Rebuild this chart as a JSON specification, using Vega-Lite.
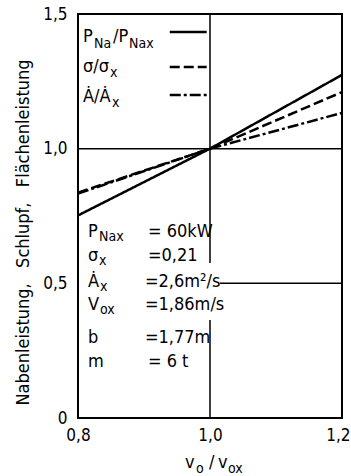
{
  "$schema": "https://vega.github.io/schema/vega-lite/v6.json",
  "width": 264,
  "height": 404,
  "autosize": {"type": "none"},
  "padding": {"left": 78, "top": 14, "right": 9, "bottom": 58},
  "background": "white",
  "config": {
    "view": {"stroke": "black", "strokeWidth": 2},
    "font": "DejaVu Sans Condensed",
    "text": {"font": "DejaVu Sans Condensed"}
  },
  "datasets": {
    "curves": [
      {"x": 0.8, "y": 0.752, "series": "P"},
      {"x": 1.0, "y": 1.0, "series": "P"},
      {"x": 1.2, "y": 1.274, "series": "P"},
      {"x": 0.8, "y": 0.837, "series": "sigma"},
      {"x": 1.0, "y": 1.0, "series": "sigma"},
      {"x": 1.2, "y": 1.21, "series": "sigma"},
      {"x": 0.8, "y": 0.833, "series": "A"},
      {"x": 1.0, "y": 1.0, "series": "A"},
      {"x": 1.2, "y": 1.133, "series": "A"}
    ],
    "grid": [
      {"x": 1.0, "x2": 1.0, "y": 0.5755, "y2": 1.5},
      {"x": 1.0, "x2": 1.0, "y": 0.0, "y2": 0.364},
      {"x": 0.8, "x2": 1.2, "y": 1.0, "y2": 1.0},
      {"x": 1.015, "x2": 1.2, "y": 0.5, "y2": 0.5}
    ],
    "legendlines": [
      {"x": 0.939, "x2": 0.995, "y": 1.433, "series": "P"},
      {"x": 0.939, "x2": 0.995, "y": 1.303, "series": "sigma"},
      {"x": 0.939, "x2": 0.995, "y": 1.199, "series": "A"}
    ],
    "labels": [
      {"t": "P", "x": 0.8076, "y": 1.396, "kind": "main"},
      {"t": "Na", "x": 0.8242, "y": 1.374, "kind": "sub"},
      {"t": "/P", "x": 0.853, "y": 1.396, "kind": "main"},
      {"t": "Nax", "x": 0.8773, "y": 1.374, "kind": "sub"},
      {"t": "σ/σ", "x": 0.8076, "y": 1.285, "kind": "main"},
      {"t": "x", "x": 0.8485, "y": 1.266, "kind": "sub"},
      {"t": "Ȧ/Ȧ", "x": 0.8076, "y": 1.174, "kind": "main"},
      {"t": "x", "x": 0.8515, "y": 1.155, "kind": "sub"},
      {"t": "P", "x": 0.8152, "y": 0.672, "kind": "main"},
      {"t": "Nax", "x": 0.8318, "y": 0.657, "kind": "sub"},
      {"t": "= 60kW", "x": 0.906, "y": 0.672, "kind": "main"},
      {"t": "σ", "x": 0.8152, "y": 0.583, "kind": "main"},
      {"t": "x", "x": 0.8318, "y": 0.568, "kind": "sub"},
      {"t": "=0,21", "x": 0.906, "y": 0.583, "kind": "main"},
      {"t": "Ȧ", "x": 0.8152, "y": 0.486, "kind": "main"},
      {"t": "x", "x": 0.8333, "y": 0.4715, "kind": "sub"},
      {"t": "=2,6m²/s", "x": 0.9015, "y": 0.486, "kind": "main"},
      {"t": "V", "x": 0.8152, "y": 0.401, "kind": "main"},
      {"t": "ox", "x": 0.8333, "y": 0.386, "kind": "sub"},
      {"t": "=1,86m/s", "x": 0.9015, "y": 0.401, "kind": "main"},
      {"t": "b", "x": 0.8152, "y": 0.2785, "kind": "main"},
      {"t": "=1,77m", "x": 0.9015, "y": 0.2785, "kind": "main"},
      {"t": "m", "x": 0.8152, "y": 0.189, "kind": "main"},
      {"t": "= 6 t", "x": 0.906, "y": 0.189, "kind": "main"},
      {"t": "v", "x": 0.9621, "y": -0.1857, "kind": "main"},
      {"t": "o", "x": 0.9788, "y": -0.2043, "kind": "sub"},
      {"t": "/", "x": 0.9985, "y": -0.1857, "kind": "main"},
      {"t": "v", "x": 1.0121, "y": -0.1857, "kind": "main"},
      {"t": "ox", "x": 1.0273, "y": -0.2043, "kind": "sub"}
    ]
  },
  "layer": [
    {
      "data": {"name": "grid"},
      "mark": {"type": "rule", "color": "black", "strokeWidth": 1.5},
      "encoding": {
        "x": {
          "field": "x", "type": "quantitative",
          "scale": {"domain": [0.8, 1.2], "nice": false, "zero": false},
          "axis": {
            "values": [0.8, 1.0, 1.2],
            "labelExpr": "replace(format(datum.value, '.1f'), '.', ',')",
            "domain": false, "ticks": false, "grid": false,
            "labelFont": "DejaVu Sans Condensed", "labelFontSize": 17, "labelColor": "black",
            "labelPadding": 9, "labelFlush": false,
            "labelAlign": {"condition": {"test": "datum.value > 1.1", "value": "right"}, "value": "center"},
            "labelOffset": {"condition": {"test": "datum.value > 1.1", "value": 8}, "value": 0},
            "title": null
          }
        },
        "x2": {"field": "x2"},
        "y": {
          "field": "y", "type": "quantitative",
          "scale": {"domain": [0, 1.5], "nice": false},
          "axis": {
            "values": [0, 0.5, 1.0, 1.5],
            "labelExpr": "datum.value == 0 ? '0' : replace(format(datum.value, '.1f'), '.', ',')",
            "domain": false, "ticks": false, "grid": false,
            "labelFont": "DejaVu Sans Condensed", "labelFontSize": 17, "labelColor": "black",
            "labelPadding": 11, "labelFlush": false,
            "title": "Nabenleistung,\u00a0\u00a0 Schlupf,\u00a0\u00a0 Flächenleistung",
            "titleFont": "DejaVu Sans Condensed", "titleFontSize": 18, "titleFontWeight": "normal",
            "titleColor": "black", "titleAngle": -90, "titleAlign": "center",
            "titleBaseline": "middle", "titleX": -55, "titleY": 218
          }
        },
        "y2": {"field": "y2"}
      }
    },
    {
      "data": {"name": "curves"},
      "mark": {"type": "line", "color": "black", "strokeWidth": 2.5, "strokeCap": "butt"},
      "encoding": {
        "x": {"field": "x", "type": "quantitative"},
        "y": {"field": "y", "type": "quantitative"},
        "detail": {"field": "series"},
        "strokeDash": {
          "field": "series", "type": "nominal",
          "scale": {"domain": ["P", "sigma", "A"], "range": [[1, 0], [10, 4], [11, 3, 3, 3]]},
          "legend": null
        }
      }
    },
    {
      "data": {"name": "legendlines"},
      "mark": {"type": "rule", "color": "black", "strokeWidth": 2.5, "strokeCap": "butt"},
      "encoding": {
        "x": {"field": "x", "type": "quantitative"},
        "x2": {"field": "x2"},
        "y": {"field": "y", "type": "quantitative"},
        "strokeDash": {"field": "series", "type": "nominal", "legend": null}
      }
    },
    {
      "data": {"name": "labels"},
      "transform": [{"filter": "datum.kind == 'main'"}],
      "mark": {"type": "text", "align": "left", "baseline": "alphabetic", "fontSize": 18, "color": "black", "font": "DejaVu Sans Condensed"},
      "encoding": {
        "x": {"field": "x", "type": "quantitative"},
        "y": {"field": "y", "type": "quantitative"},
        "text": {"field": "t"}
      }
    },
    {
      "data": {"name": "labels"},
      "transform": [{"filter": "datum.kind == 'sub'"}],
      "mark": {"type": "text", "align": "left", "baseline": "alphabetic", "fontSize": 14, "color": "black", "font": "DejaVu Sans Condensed"},
      "encoding": {
        "x": {"field": "x", "type": "quantitative"},
        "y": {"field": "y", "type": "quantitative"},
        "text": {"field": "t"}
      }
    }
  ]
}
